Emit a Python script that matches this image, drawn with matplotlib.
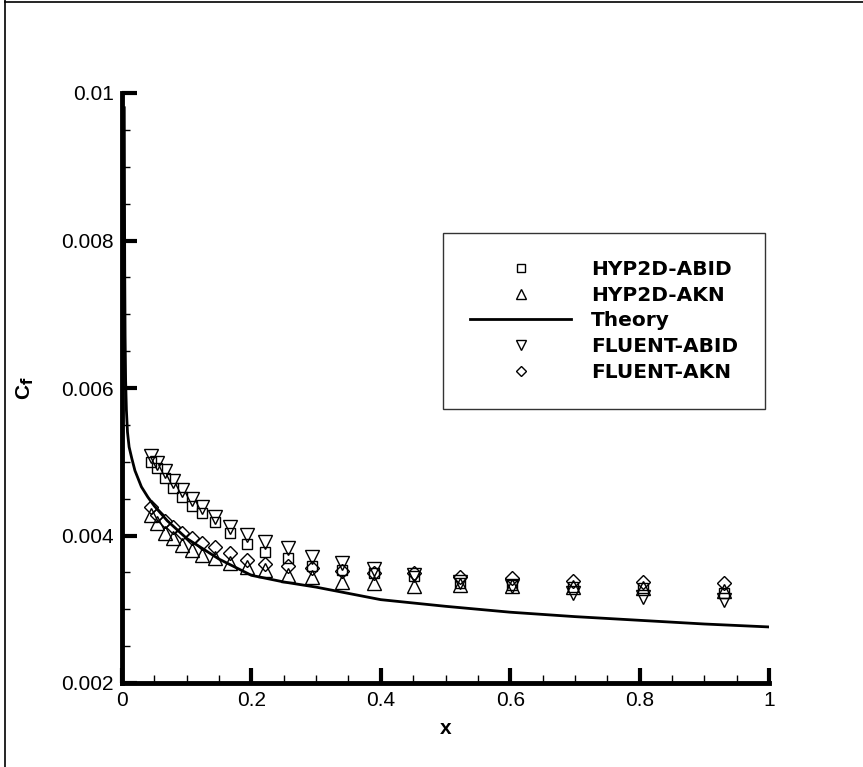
import matplotlib
matplotlib.use("Agg")
import matplotlib.pyplot as plt
from matplotlib.ticker import MultipleLocator, FixedLocator
from matplotlib.lines import Line2D

plt.rcParams['font.family'] = ['Liberation Sans', 'DejaVu Sans']

# ---- data ----
x_pts = [0.045, 0.054, 0.066, 0.079, 0.093, 0.108, 0.123, 0.144, 0.167, 0.193,
         0.221, 0.256, 0.293, 0.34, 0.39, 0.452, 0.522, 0.603, 0.697, 0.805, 0.93]
hyp_abid = [0.00500, 0.00492, 0.00478, 0.00464, 0.00452, 0.00440, 0.00430, 0.00418, 0.00404, 0.00389,
            0.00377, 0.00370, 0.00358, 0.00353, 0.00349, 0.00345, 0.00336, 0.00333, 0.00330, 0.00329, 0.00322]
hyp_akn = [0.00428, 0.00417, 0.00403, 0.00397, 0.00387, 0.00380, 0.00373, 0.00369, 0.00363, 0.00357,
           0.00353, 0.00347, 0.00344, 0.00337, 0.00336, 0.00331, 0.00333, 0.00331, 0.00330, 0.00329, 0.00325]
fluent_abid = [0.00508, 0.00498, 0.00487, 0.00474, 0.00462, 0.00450, 0.00438, 0.00425, 0.00412, 0.00401,
               0.00391, 0.00383, 0.00371, 0.00363, 0.00355, 0.00346, 0.00337, 0.00332, 0.00322, 0.00317, 0.00313]
fluent_akn = [0.00438, 0.00428, 0.00419, 0.00412, 0.00403, 0.00397, 0.00390, 0.00384, 0.00376, 0.00367,
              0.00361, 0.00358, 0.00356, 0.00352, 0.00349, 0.00349, 0.00344, 0.00342, 0.00338, 0.00337, 0.00336]

x_theory = [0.0035, 0.0038, 0.0042, 0.0048, 0.0056, 0.0068, 0.0085, 0.011, 0.015, 0.02, 0.03,
            0.04, 0.05, 0.07, 0.1, 0.15, 0.2, 0.25, 0.3, 0.4, 0.5, 0.6, 0.7, 0.8, 0.9, 1.0]
cf_theory = [0.0098, 0.0088, 0.0076, 0.0067, 0.0061, 0.0057, 0.0054, 0.0052, 0.00505,
             0.00488, 0.00466, 0.00452, 0.00440, 0.00420, 0.00396, 0.00368, 0.00346, 0.00337, 0.00330,
             0.00313, 0.00304, 0.00296, 0.00290, 0.00285, 0.00280, 0.00276]

labels = ['HYP2D-ABID', 'HYP2D-AKN', 'Theory', 'FLUENT-ABID', 'FLUENT-AKN']

W, H = 863, 767
fig = plt.figure(figsize=(W / 100, H / 100), dpi=100)
ax = fig.add_axes([122 / W, 1 - 683 / H, (769 - 122) / W, (683 - 93) / H])

mkw = dict(linestyle='none', markerfacecolor='none', markeredgecolor='black',
           markeredgewidth=1.0, zorder=3)
ax.plot(x_pts, fluent_akn, marker='D', markersize=7, **mkw)
ax.plot(x_pts, fluent_abid, marker='v', markersize=9.5, **mkw)
ax.plot(x_pts, hyp_akn, marker='^', markersize=9.5, **mkw)
ax.plot(x_pts, hyp_abid, marker='s', markersize=7, **mkw)
ax.plot(x_theory, cf_theory, color='black', linewidth=2.0, zorder=4)

ax.set_xlim(0, 1)
ax.set_ylim(0.002, 0.01)
for s in ['top', 'right']:
    ax.spines[s].set_visible(False)
for s in ['left', 'bottom']:
    ax.spines[s].set_linewidth(3.5)
    ax.spines[s].set_zorder(5)

ax.xaxis.set_major_locator(FixedLocator([0, 0.2, 0.4, 0.6, 0.8, 1.0]))
ax.xaxis.set_minor_locator(MultipleLocator(0.05))
ax.yaxis.set_major_locator(FixedLocator([0.002, 0.004, 0.006, 0.008, 0.01]))
ax.yaxis.set_minor_locator(MultipleLocator(0.0005))
ax.set_xticklabels(['0', '0.2', '0.4', '0.6', '0.8', '1'])
ax.set_yticklabels(['0.002', '0.004', '0.006', '0.008', '0.01'])
ax.tick_params(which='major', direction='in', length=11, width=3, labelsize=15, pad=6)
ax.tick_params(which='minor', direction='in', length=6, width=1)

ax.set_xlabel('x', fontsize=15, fontweight='bold', labelpad=6)
ax.set_ylabel(r'C$_\mathbf{f}$', fontsize=15, fontweight='bold', labelpad=18)

# legend
handles = [
    Line2D([], [], marker='s', linestyle='none', markerfacecolor='none', markeredgecolor='black', markersize=6),
    Line2D([], [], marker='^', linestyle='none', markerfacecolor='none', markeredgecolor='black', markersize=7),
    Line2D([], [], color='black', linewidth=2),
    Line2D([], [], marker='v', linestyle='none', markerfacecolor='none', markeredgecolor='black', markersize=7),
    Line2D([], [], marker='D', linestyle='none', markerfacecolor='none', markeredgecolor='black', markersize=5.5),
]
fs = 14.5
px = fs * 100 / 72
leg = ax.legend(handles, labels, loc='upper left',
                bbox_to_anchor=((443 - 122) / 647, (683 - 233) / 590),
                borderaxespad=0, frameon=True, fancybox=False, edgecolor='black',
                handlelength=101 / px, handletextpad=20 / px,
                borderpad=1.35, labelspacing=0.33,
                prop={'weight': 'bold', 'size': fs, 'family': 'DejaVu Sans'})
leg.get_frame().set_linewidth(1.0)

# outer frame lines (top and left)
fig.add_artist(Line2D([5 / W, 5 / W], [0, 1], color='black', linewidth=1.2, transform=fig.transFigure))
fig.add_artist(Line2D([5 / W, 1], [1 - 1.5 / H, 1 - 1.5 / H], color='black', linewidth=1.2, transform=fig.transFigure))

fig.savefig('out.png', dpi=100)
